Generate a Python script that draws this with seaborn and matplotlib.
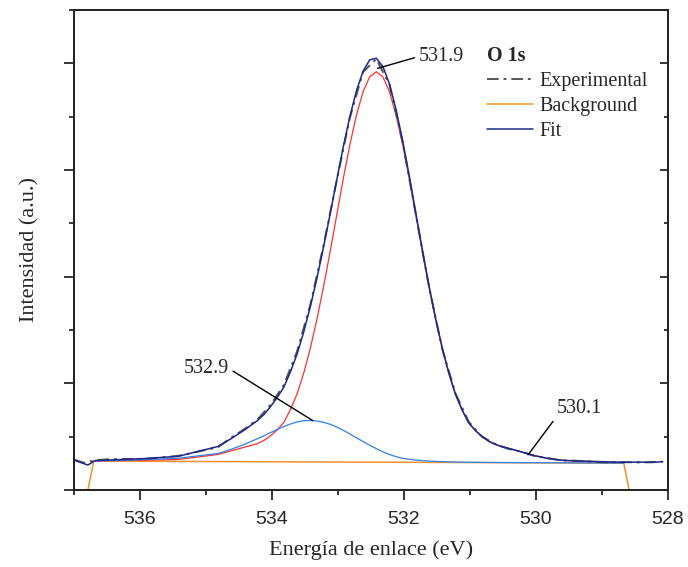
import matplotlib
matplotlib.use("Agg")
import matplotlib.pyplot as plt
import seaborn as sns
from matplotlib.lines import Line2D
from matplotlib.ticker import MultipleLocator

# ---- data (binding energy in eV, intensity in a.u.) ----
comp_energy = [536.68, 536.42, 535.92, 535.42, 534.82, 534.62, 534.42, 534.22, 534.12,
               534.02, 533.92, 533.82, 533.72, 533.62, 533.52, 533.42, 533.32, 533.22,
               533.12, 533.02, 532.92, 532.82, 532.72, 532.62, 532.52, 532.42, 532.32,
               532.22, 532.12, 532.02, 531.92, 531.82, 531.72, 531.62, 531.52, 531.42,
               531.32, 531.22, 531.12, 531.02, 530.92, 530.82, 530.72, 530.62, 530.52,
               530.42, 530.22, 530.02, 529.82, 529.62, 529.42, 528.92, 528.67]

main_intensity = [0.275, 0.276, 0.279, 0.286, 0.333, 0.366, 0.401, 0.435, 0.465,
                  0.510, 0.564, 0.634, 0.754, 0.901, 1.094, 1.328, 1.599, 1.903,
                  2.231, 2.575, 2.919, 3.238, 3.516, 3.734, 3.873, 3.921, 3.873,
                  3.734, 3.515, 3.236, 2.917, 2.573, 2.229, 1.899, 1.595, 1.324,
                  1.090, 0.895, 0.748, 0.628, 0.557, 0.502, 0.457, 0.427, 0.406,
                  0.391, 0.356, 0.321, 0.295, 0.279, 0.272, 0.263, 0.258]

second_intensity = [0.272, 0.276, 0.285, 0.298, 0.342, 0.381, 0.427, 0.481, 0.509,
                    0.539, 0.568, 0.595, 0.619, 0.638, 0.649, 0.652, 0.647, 0.635,
                    0.616, 0.591, 0.560, 0.525, 0.490, 0.454, 0.420, 0.388, 0.358,
                    0.333, 0.312, 0.297, 0.288, 0.281, 0.275, 0.271, 0.268, 0.266,
                    0.264, 0.262, 0.261, 0.260, 0.259, 0.259, 0.258, 0.258, 0.257,
                    0.257, 0.256, 0.256, 0.255, 0.255, 0.254, 0.253, 0.252]

fit_energy = [537.0, 536.79] + comp_energy + [528.45, 528.25, 528.08]
fit_intensity = [0.280, 0.234,
                 0.276, 0.282, 0.295, 0.316, 0.408, 0.481, 0.562, 0.651, 0.709,
                 0.784, 0.868, 0.965, 1.109, 1.275, 1.480, 1.717, 1.983, 2.275,
                 2.585, 2.904, 3.217, 3.501, 3.744, 3.927, 4.032, 4.048, 3.970,
                 3.806, 3.566, 3.273, 2.945, 2.594, 2.244, 1.911, 1.604, 1.331,
                 1.095, 0.899, 0.751, 0.630, 0.559, 0.504, 0.459, 0.429, 0.407,
                 0.392, 0.357, 0.322, 0.296, 0.280, 0.273, 0.264, 0.259,
                 0.262, 0.258, 0.266]

exp_energy = [537.0, 536.85, 536.68, 536.42, 535.92, 535.42, 534.82, 534.62, 534.42,
              534.22, 534.02, 533.82, 533.62, 533.42, 533.22, 533.02, 532.82, 532.62,
              532.42, 532.22, 532.02, 531.82, 531.62, 531.42, 531.22, 531.02, 530.82,
              530.62, 530.42, 530.22, 530.02, 529.82, 529.62, 529.42, 528.92, 528.67,
              528.45, 528.25, 528.08]
exp_intensity = [0.285, 0.255, 0.280, 0.290, 0.292, 0.320, 0.400, 0.490, 0.570,
                 0.662, 0.800, 0.985, 1.300, 1.735, 2.290, 2.900, 3.490, 3.920,
                 4.040, 3.800, 3.260, 2.580, 1.900, 1.320, 0.905, 0.640, 0.500,
                 0.432, 0.385, 0.360, 0.318, 0.300, 0.276, 0.275, 0.258, 0.262,
                 0.258, 0.262, 0.265]

bg_energy = [537.0, 536.79, 536.70, 528.67, 528.59, 528.0]
bg_intensity = [0.0, 0.0, 0.271, 0.252, 0.0, 0.0]

legend_title = "O 1s"
legend_labels = ["Experimental", "Background", "Fit"]
xtick_values = [536, 534, 532, 530, 528]
xtick_labels = ["536", "534", "532", "530", "528"]
peak_labels = ["531.9", "532.9", "530.1"]
peak_points = [(532.40, 3.953), (533.38, 0.650), (530.12, 0.330)]
peak_text_pos = [(531.77, 4.065), (535.00, 1.140), (529.68, 0.766)]

# ---- style ----
sns.set_style("ticks")
plt.rcParams["font.family"] = ["Liberation Serif", "DejaVu Serif"]
plt.rcParams["axes.linewidth"] = 1.4

c_exp = "#555555"
c_bg = "#f0932b"
c_fit = "#1b2a8c"
c_main = "#ff3030"
c_second = "#2f80e8"
exp_dash = (0, (6, 2.5, 1.5, 2.5))

fig = plt.figure(figsize=(6.88, 5.67), dpi=100)
ax = fig.add_axes([74 / 688, 1 - 490 / 567, 594 / 688, 480 / 567])

def draw(x, y, **kw):
    sns.lineplot(x=x, y=y, ax=ax, sort=False, estimator=None, **kw)

draw(bg_energy, bg_intensity, color=c_bg, linewidth=1.1)
draw(comp_energy, main_intensity, color=c_main, linewidth=0.9)
draw(comp_energy, second_intensity, color=c_second, linewidth=0.9)
draw(exp_energy, exp_intensity, color=c_exp, linewidth=1.4, linestyle=exp_dash)
draw(fit_energy, fit_intensity, color=c_fit, linewidth=1.1)

ax.set_xlim(537, 528)
ax.set_ylim(0, 4.5)
ax.set_xticks(xtick_values)
ax.set_xticklabels(xtick_labels, fontfamily="Liberation Sans", fontsize=14)
ax.xaxis.set_minor_locator(MultipleLocator(1))
ax.yaxis.set_major_locator(MultipleLocator(1))
ax.yaxis.set_minor_locator(MultipleLocator(0.5))
ax.tick_params(axis="both", which="major", direction="out", length=7, width=1.3, pad=8)
ax.tick_params(axis="both", which="minor", direction="out", length=3.5, width=1.3)
ax.tick_params(axis="y", labelleft=False)

ax2 = ax.twinx()
ax2.set_ylim(0, 4.5)
ax2.yaxis.set_major_locator(MultipleLocator(1))
ax2.yaxis.set_minor_locator(MultipleLocator(0.5))
ax2.tick_params(axis="y", which="major", direction="in", length=6, width=1.3, labelright=False)
ax2.tick_params(axis="y", which="minor", direction="in", length=3, width=1.3)
for s in ax2.spines.values():
    s.set_linewidth(1.4)

ax.set_xlabel("Energía de enlace (eV)", fontsize=16, labelpad=9)
ax.set_ylabel("Intensidad (a.u.)", fontsize=16, labelpad=18)

# annotations
relposes = [(0, 0.5), (1, 0.5), (0, 0.1)]
has = ["left", "center", "left"]
for lab, pt, tp, rp, ha in zip(peak_labels, peak_points, peak_text_pos, relposes, has):
    ax.annotate(lab, xy=pt, xytext=tp, fontsize=14.5, ha=ha, va="center",
                arrowprops=dict(arrowstyle="-", color="black", lw=1.0,
                                relpos=rp, shrinkA=1, shrinkB=0))

handles = [
    Line2D([], [], color=c_exp, linewidth=1.4, linestyle=exp_dash),
    Line2D([], [], color=c_bg, linewidth=1.1),
    Line2D([], [], color=c_fit, linewidth=1.1),
]
leg = ax.legend(handles, legend_labels, title=legend_title,
                title_fontproperties={"weight": "bold", "size": 14.5,
                                      "family": "Liberation Serif"},
                loc="upper left", bbox_to_anchor=(0.695, 0.925), frameon=False,
                fontsize=14.5, handlelength=2.3, handletextpad=0.3,
                labelspacing=0.30, borderpad=0, borderaxespad=0,
                alignment="left")

fig.savefig("out.png", dpi=100)
